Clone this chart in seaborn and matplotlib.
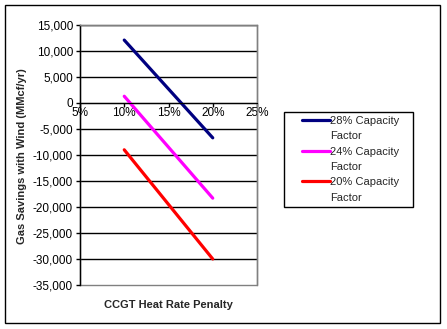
import matplotlib
matplotlib.use("Agg")
import matplotlib.pyplot as plt
from matplotlib.patches import Rectangle
from matplotlib.lines import Line2D
from matplotlib.ticker import FuncFormatter
import seaborn as sns
import pandas as pd

penalty = [0.10, 0.15, 0.20]
cf28 = [12100, 2700, -6700]
cf24 = [1300, -8500, -18300]
cf20 = [-9000, -19500, -30000]
labels = ["28% Capacity Factor", "24% Capacity Factor", "20% Capacity Factor"]
colors = ["#000080", "#FF00FF", "#FF0000"]

rows = []
for lab, vals in zip(labels, [cf28, cf24, cf20]):
    for x, v in zip(penalty, vals):
        rows.append({"penalty": x, "savings": v, "series": lab})
df = pd.DataFrame(rows)

sns.set_style("white")
plt.rcParams['font.family'] = ['Liberation Sans', 'DejaVu Sans']
FS = 8.5
FL = 8

W, H = 447, 329
fig = plt.figure(figsize=(W / 100, H / 100), dpi=100)
ax = fig.add_axes([80 / W, 1 - 285 / H, (257 - 80) / W, (285 - 25) / H])

sns.lineplot(data=df, x="penalty", y="savings", hue="series", hue_order=labels,
             palette=dict(zip(labels, colors)), linewidth=2.3, ax=ax, legend=True)

ax.set_xlim(0.05, 0.25)
ax.set_ylim(-35000, 15000)
ax.set_xticks([0.05, 0.10, 0.15, 0.20, 0.25])
ax.set_yticks(range(-35000, 15001, 5000))
ax.xaxis.set_major_formatter(FuncFormatter(lambda v, p: f"{round(v*100)}%"))
ax.yaxis.set_major_formatter(FuncFormatter(lambda v, p: f"{int(v):,}"))
for y in range(-30000, 15001, 5000):
    ax.axhline(y, color="black", linewidth=1, zorder=0)

for s in ["top", "right"]:
    ax.spines[s].set_color("#808080")
    ax.spines[s].set_linewidth(1)
ax.spines["left"].set_color("black")
ax.spines["left"].set_linewidth(1)
ax.spines["bottom"].set_position(("data", 0))
ax.spines["bottom"].set_color("black")
ax.add_patch(Rectangle((0, 0), 1, 1, transform=ax.transAxes, fill=False,
                       edgecolor="#808080", linewidth=1, clip_on=False, zorder=0))

ax.tick_params(axis="both", labelsize=FS, colors="black", direction="out", length=3, width=1,
               left=True, bottom=True)
ax.tick_params(axis="x", pad=0)
ax.tick_params(axis="y", pad=2)
ax.set_xlabel("")
ax.set_ylabel("")

fig.text(22 / W, 1 - 156 / H, "Gas Savings with Wind (MMcf/yr)", rotation=90,
         ha="center", va="center", fontsize=FL, fontweight="bold")
fig.text(168 / W, 1 - 305 / H, "CCGT Heat Rate Penalty", ha="center", va="center",
         fontsize=FL, fontweight="bold")

# legend: each series entry split over two rows, handle aligned with first row
handles, labs = ax.get_legend_handles_labels()
ax.get_legend().remove()
leg_h, leg_l = [], []
for h, l in zip(handles, labs):
    first, second = l.rsplit(" ", 1)
    leg_h += [h, Line2D([], [], color="none")]
    leg_l += [first, second]
leg = fig.legend(leg_h, leg_l, loc="upper left", bbox_to_anchor=(302 / W, 1 - 116 / H),
                 fontsize=FL, frameon=False, handlelength=2.5, handletextpad=0.0,
                 labelspacing=0.48, borderpad=0, borderaxespad=0)
fig.patches.append(Rectangle((284 / W, 1 - 207 / H), (413 - 284) / W, (207 - 112) / H,
                             transform=fig.transFigure, fill=False, edgecolor="black",
                             linewidth=1))

fig.patches.append(Rectangle((5 / W, 1 - 323 / H), (440 - 5) / W, (323 - 5) / H,
                             transform=fig.transFigure, fill=False, edgecolor="black",
                             linewidth=1))

fig.savefig("out.png", dpi=100)
